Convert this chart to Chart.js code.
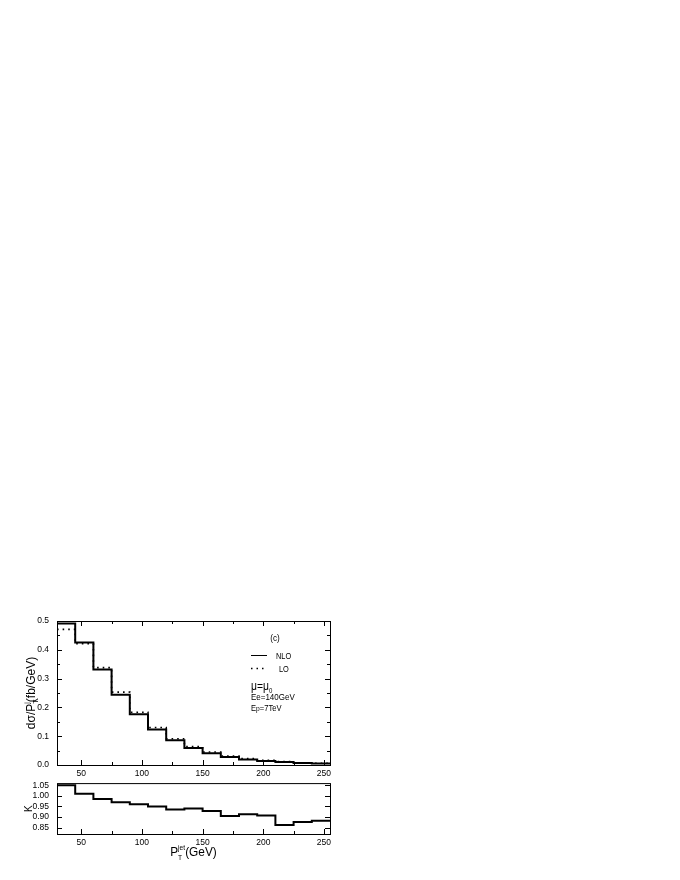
<!DOCTYPE html>
<html lang="en">
<head>
<meta charset="UTF-8">
<title>P_T jet distribution</title>
<script src="https://cdn.jsdelivr.net/npm/chart.js@4.4.1/dist/chart.umd.min.js"></script>
<style>
  body { margin: 0; background: #fff; width: 680px; height: 880px; position: relative; overflow: hidden; }
  canvas { position: absolute; left: 0; }
  #sigmaChart { top: 600px; }
  #kChart { top: 770px; }
</style>
</head>
<body>
<canvas id="sigmaChart" width="340" height="180"></canvas>
<canvas id="kChart" width="340" height="110"></canvas>
<script>
// bin edges of P_T^jet (GeV)
const binEdges = [30, 45, 60, 75, 90, 105, 120, 135, 150, 165, 180, 195, 210, 225, 240, 255]
const nloValues = [0.491, 0.425, 0.332, 0.244, 0.176, 0.123, 0.086, 0.059, 0.041, 0.028, 0.019, 0.014, 0.010, 0.007, 0.005]
const loValues = [0.471, 0.421, 0.338, 0.253, 0.183, 0.130, 0.091, 0.064, 0.045, 0.031, 0.022, 0.016, 0.012, 0.008, 0.006]
const kValues = [1.05, 1.01, 0.985, 0.97, 0.96, 0.95, 0.935, 0.94, 0.928, 0.905, 0.913, 0.907, 0.863, 0.877, 0.883]

const xTicks = [50, 100, 150, 200, 250]
const xMinorTicks = [75, 125, 175, 225]
const sigmaTicks = [0.0, 0.1, 0.2, 0.3, 0.4, 0.5]
const sigmaMinorTicks = [0.05, 0.15, 0.25, 0.35, 0.45]
const kTicks = [0.85, 0.90, 0.95, 1.00, 1.05]

const FONT = 'Liberation Sans, Arial, sans-serif'

// histogram steps: left edge of each bin, last value repeated at the right edge
function steps(vals) {
    return binEdges.map((e, i) => ({x: e, y: vals[Math.min(i, vals.length - 1)]}))
}

// text with sub/superscripts, parts = [[text, size, dy, noAdvance]]
function richText(ctx, parts, x, y, align, squeeze) {
    const sq = squeeze || 1
    let w = 0
    parts.forEach(p => { ctx.font = p[1] + 'px ' + FONT; if (!p[3]) w += ctx.measureText(p[0]).width })
    ctx.save()
    ctx.translate(align === 'center' ? x - w * sq / 2 : x, y)
    ctx.scale(sq, 1)
    ctx.textAlign = 'left'
    ctx.textBaseline = 'alphabetic'
    let cx = 0
    parts.forEach(p => {
        ctx.font = p[1] + 'px ' + FONT
        ctx.fillText(p[0], cx, p[2] || 0)
        if (!p[3]) cx += ctx.measureText(p[0]).width
    })
    ctx.restore()
}

// frame + inward ticks on all four sides
function framePlugin(yMajor, yMinor, topTicks) {
    return {
        id: 'frame',
        afterDraw(chart) {
            const {ctx, chartArea: a, scales} = chart
            ctx.save()
            ctx.strokeStyle = '#000'
            ctx.lineWidth = 1
            ctx.strokeRect(a.left + 0.5, a.top + 0.5, a.right - a.left, a.bottom - a.top)
            ctx.beginPath()
            const xt = (v, len) => {
                const px = Math.round(scales.x.getPixelForValue(v)) + 0.5
                ctx.moveTo(px, a.bottom); ctx.lineTo(px, a.bottom - len)
                if (topTicks) { ctx.moveTo(px, a.top); ctx.lineTo(px, a.top + len) }
            }
            const yt = (v, len) => {
                const py = Math.round(scales.y.getPixelForValue(v)) + 0.5
                ctx.moveTo(a.left, py); ctx.lineTo(a.left + len, py)
                ctx.moveTo(a.right, py); ctx.lineTo(a.right - len, py)
            }
            xTicks.forEach(v => xt(v, 5))
            xMinorTicks.forEach(v => xt(v, 3))
            yMajor.forEach(v => yt(v, 5))
            yMinor.forEach(v => yt(v, 3))
            ctx.stroke()
            ctx.restore()
        }
    }
}

const sigmaLabels = {
    id: 'sigmaLabels',
    afterDraw(chart) {
        const {ctx, chartArea: a} = chart
        ctx.save()
        ctx.fillStyle = '#000'
        // y title
        ctx.translate(31, (a.top + a.bottom) / 2)
        ctx.rotate(-Math.PI / 2)
        richText(ctx, [['d\u03c3/P', 12], ['T', 7, 3, true], ['j', 7, -6], ['(fb/GeV)', 12]], 0, 4, 'center')
        ctx.restore()
        // legend and notes (canvas top is at page y 600)
        ctx.save()
        ctx.fillStyle = '#000'
        ctx.strokeStyle = '#000'
        richText(ctx, [['(c)', 9.5]], 275, 41, 'center', 0.86)
        ctx.lineWidth = 1
        ctx.beginPath(); ctx.moveTo(251, 55.5); ctx.lineTo(267, 55.5); ctx.stroke()
        richText(ctx, [['NLO', 9.5]], 276, 59, 'left', 0.78)
        ctx.setLineDash([1.5, 4]); ctx.lineWidth = 1.5
        ctx.beginPath(); ctx.moveTo(251, 68.5); ctx.lineTo(267, 68.5); ctx.stroke()
        ctx.setLineDash([])
        richText(ctx, [['LO', 9.5]], 279, 72, 'left', 0.78)
        richText(ctx, [['\u03bc=\u03bc', 12], ['0', 7, 3]], 251, 90, 'left', 0.86)
        richText(ctx, [['Ee=140GeV', 9.5]], 251, 99.5, 'left', 0.84)
        richText(ctx, [['E', 9], ['p', 8], ['=7TeV', 9]], 251, 110.5, 'left', 0.84)
        ctx.restore()
    }
}

const kLabels = {
    id: 'kLabels',
    afterDraw(chart) {
        const {ctx, chartArea: a} = chart
        ctx.save()
        ctx.fillStyle = '#000'
        ctx.translate(28.5, (a.top + a.bottom) / 2)
        ctx.rotate(-Math.PI / 2)
        richText(ctx, [['K', 10]], 0, 3.5, 'center')
        ctx.restore()
        // x title (canvas top is at page y 770)
        ctx.save()
        ctx.fillStyle = '#000'
        richText(ctx, [['P', 12.5], ['T', 7, 4, true], ['jet', 7, -6], ['(GeV)', 12.5]], (a.left + a.right) / 2, 86, 'center', 0.95)
        ctx.restore()
    }
}

function xScale(pad) {
    return {
        type: 'linear', min: 30, max: 255,
        grid: {display: false, drawTicks: false}, border: {display: false},
        afterBuildTicks: s => { s.ticks = xTicks.map(v => ({value: v})) },
        afterFit: s => { s.height = 15 },
        ticks: {color: '#000', padding: pad, autoSkip: false, font: {family: FONT, size: 8.5}, maxRotation: 0}
    }
}

function yScale(min, max, tickList, digits) {
    return {
        min: min, max: max,
        grid: {display: false, drawTicks: false}, border: {display: false},
        afterBuildTicks: s => { s.ticks = tickList.map(v => ({value: v})) },
        afterFit: s => { s.width = 57 },
        ticks: {color: '#000', padding: 8, autoSkip: false, font: {family: FONT, size: 8.5}, callback: v => v.toFixed(digits)}
    }
}

new Chart(document.getElementById('sigmaChart'), {
    type: 'line',
    data: {
        datasets: [
            {label: 'NLO', data: steps(nloValues), stepped: 'before', borderColor: '#000', borderWidth: 2, pointRadius: 0, fill: false},
            {label: 'LO', data: steps(loValues), stepped: 'before', borderColor: '#000', borderWidth: 1.6, borderDash: [1.6, 4], pointRadius: 0, fill: false}
        ]
    },
    options: {
        responsive: false, animation: false,
        layout: {padding: {top: 21, right: 10, left: 0, bottom: 0}},
        plugins: {legend: {display: false}, tooltip: {enabled: false}},
        scales: {
            x: xScale(4),
            y: yScale(0, 0.5, sigmaTicks, 1)
        }
    },
    plugins: [framePlugin(sigmaTicks, sigmaMinorTicks, true), sigmaLabels]
})

new Chart(document.getElementById('kChart'), {
    type: 'line',
    data: {
        datasets: [
            {label: 'K', data: steps(kValues), stepped: 'before', borderColor: '#000', borderWidth: 2, pointRadius: 0, fill: false}
        ]
    },
    options: {
        responsive: false, animation: false,
        layout: {padding: {top: 13, right: 10, left: 0, bottom: 31}},
        plugins: {legend: {display: false}, tooltip: {enabled: false}},
        scales: {
            x: xScale(4),
            y: yScale(0.82, 1.06, kTicks, 2)
        }
    },
    plugins: [framePlugin(kTicks, [], false), kLabels]
})
</script>
</body>
</html>
